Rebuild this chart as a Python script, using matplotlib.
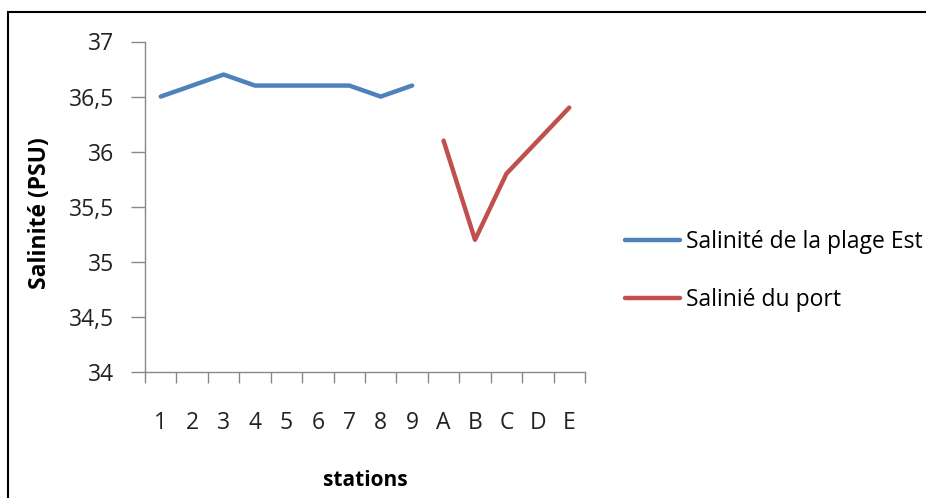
import matplotlib.pyplot as plt
from matplotlib.patches import Rectangle

plt.rcParams['font.family'] = ['Open Sans', 'DejaVu Sans']

# stations along the transect, beach then harbour
stations = ['1', '2', '3', '4', '5', '6', '7', '8', '9', 'A', 'B', 'C', 'D', 'E']
plage_est = [36.5, 36.6, 36.7, 36.6, 36.6, 36.6, 36.6, 36.5, 36.6]
port = [36.1, 35.2, 35.8, 36.1, 36.4]

blue = '#4F81BD'
red = '#C0504D'

fig = plt.figure(figsize=(9.26, 4.98), dpi=100)
ax = fig.add_axes([145 / 926, 1 - 372 / 498, 440 / 926, 330.5 / 498])

x_est = list(range(len(plage_est)))
x_port = list(range(len(plage_est), len(stations)))
ax.plot(x_est, plage_est, color=blue, lw=3.2, solid_capstyle='round',
        solid_joinstyle='round', label='Salinité de la plage Est')
ax.plot(x_port, port, color=red, lw=3.2, solid_capstyle='round',
        solid_joinstyle='round', label='Salinié du port')

ax.set_xlim(-0.5, len(stations) - 0.5)
ax.set_ylim(34, 37)
ax.set_yticks([34, 34.5, 35, 35.5, 36, 36.5, 37])
ax.set_yticklabels(['34', '34,5', '35', '35,5', '36', '36,5', '37'])

# category ticks between stations, labels centred on them
ax.set_xticks([i - 0.5 for i in range(len(stations) + 1)])
ax.set_xticklabels([])
ax.set_xticks(range(len(stations)), minor=True)
ax.set_xticklabels(stations, minor=True)
ax.tick_params(axis='x', which='minor', length=0, pad=28, labelsize=16.5, colors='#222222')
ax.tick_params(axis='x', which='major', length=8, width=1, color='#888888')
ax.tick_params(axis='y', length=10, width=1, color='#888888', pad=12,
               labelsize=16.5, labelcolor='#222222')

for s in ['top', 'right']:
    ax.spines[s].set_visible(False)
for s in ['left', 'bottom']:
    ax.spines[s].set_color('#888888')
    ax.spines[s].set_linewidth(1)

ax.set_xlabel('stations', fontsize=15, fontweight='bold', va='center')
ax.xaxis.set_label_coords(0.5, -(480 - 372) / 330.5)
ax.set_ylabel('Salinité (PSU)', fontsize=16.5, fontweight='bold', va='center')
ax.yaxis.set_label_coords(-(145 - 40) / 440, 0.48)

fig.legend(loc='center left', bbox_to_anchor=(625 / 926, 1 - 271 / 498),
           frameon=False, fontsize=16.5, handlelength=2.4, handletextpad=0.26,
           labelspacing=1.46, borderpad=0, borderaxespad=0)

# outer frame around the chart
fig.patches.append(Rectangle((8 / 926, -0.1), 1.2, 1.1 - 12 / 498,
                             transform=fig.transFigure, fill=False,
                             edgecolor='black', lw=1.5))

fig.savefig('out.png', dpi=100)
